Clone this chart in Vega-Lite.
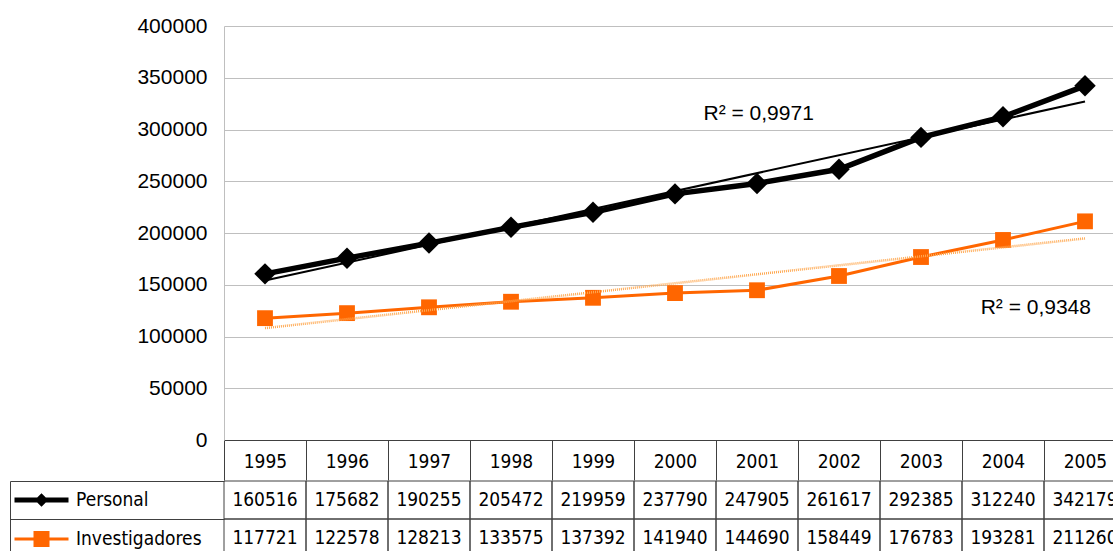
{
  "$schema": "https://vega.github.io/schema/vega-lite/v6.json",
  "autosize": "none",
  "width": 889,
  "height": 414,
  "padding": {"left": 224, "top": 26, "right": 0, "bottom": 111},
  "background": "white",
  "config": {"view": {"stroke": null}},
  "datasets": {
    "main": [
      {"year": 1995, "series": "Personal", "value": 160516},
      {"year": 1996, "series": "Personal", "value": 175682},
      {"year": 1997, "series": "Personal", "value": 190255},
      {"year": 1998, "series": "Personal", "value": 205472},
      {"year": 1999, "series": "Personal", "value": 219959},
      {"year": 2000, "series": "Personal", "value": 237790},
      {"year": 2001, "series": "Personal", "value": 247905},
      {"year": 2002, "series": "Personal", "value": 261617},
      {"year": 2003, "series": "Personal", "value": 292385},
      {"year": 2004, "series": "Personal", "value": 312240},
      {"year": 2005, "series": "Personal", "value": 342179},
      {"year": 1995, "series": "Investigadores", "value": 117721},
      {"year": 1996, "series": "Investigadores", "value": 122578},
      {"year": 1997, "series": "Investigadores", "value": 128213},
      {"year": 1998, "series": "Investigadores", "value": 133575},
      {"year": 1999, "series": "Investigadores", "value": 137392},
      {"year": 2000, "series": "Investigadores", "value": 141940},
      {"year": 2001, "series": "Investigadores", "value": 144690},
      {"year": 2002, "series": "Investigadores", "value": 158449},
      {"year": 2003, "series": "Investigadores", "value": 176783},
      {"year": 2004, "series": "Investigadores", "value": 193281},
      {"year": 2005, "series": "Investigadores", "value": 211260}
    ]
  },
  "data": {"name": "main"},
  "encoding": {
    "x": {
      "field": "year",
      "type": "ordinal",
      "scale": {
        "type": "band",
        "domain": [1995, 1996, 1997, 1998, 1999, 2000, 2001, 2002, 2003, 2004, 2005],
        "range": [0, 902],
        "paddingInner": 0,
        "paddingOuter": 0
      },
      "axis": {
        "orient": "bottom",
        "title": null,
        "domain": true,
        "domainColor": "#404040",
        "domainWidth": 1,
        "ticks": true,
        "tickBand": "extent",
        "tickSize": 40,
        "tickColor": "#404040",
        "tickWidth": 1,
        "labelFont": "DejaVu Sans Condensed",
        "labelFontSize": 19,
        "labelColor": "black",
        "labelBaseline": "middle",
        "labelPadding": -19,
        "labelAngle": 0,
        "labelFlush": false,
        "grid": false
      }
    }
  },
  "resolve": {"scale": {"y": "independent"}},
  "layer": [
    {
      "encoding": {
        "y": {
          "field": "value",
          "type": "quantitative",
          "scale": {"domain": [0, 400000], "nice": false, "zero": true},
          "axis": {
            "orient": "left",
            "title": null,
            "values": [0, 50000, 100000, 150000, 200000, 250000, 300000, 350000, 400000],
            "format": "d",
            "labelFont": "Liberation Sans",
            "labelFontSize": 21,
            "labelColor": "black",
            "labelPadding": 17,
            "ticks": false,
            "domain": true,
            "domainColor": "#bfbfbf",
            "grid": true,
            "gridColor": "#bfbfbf",
            "gridWidth": 1
          }
        },
        "color": {
          "field": "series",
          "type": "nominal",
          "scale": {"domain": ["Personal", "Investigadores"], "range": ["#000000", "#FF6600"]},
          "legend": {
            "orient": "none",
            "legendX": -192,
            "legendY": 464.5,
            "title": null,
            "direction": "vertical",
            "padding": 0,
            "rowPadding": 19,
            "labelOffset": 25,
            "symbolOffset": 0,
            "labelFont": "DejaVu Sans Condensed",
            "labelFontSize": 19,
            "labelColor": "black",
            "labelLimit": 300,
            "encode": {
              "symbols": {
                "update": {
                  "shape": {"signal": "datum.value === 'Personal' ? 'M-27,-2.5H27V2.5H-27ZM0,-6.8L6.8,0L0,6.8L-6.8,0Z' : 'M-27,-1.4H27V1.4H-27ZM-8,-8H8V8H-8Z'"},
                  "fill": {"signal": "datum.value === 'Personal' ? '#000000' : '#FF6600'"},
                  "stroke": {"value": "transparent"},
                  "strokeWidth": {"value": 0},
                  "size": {"value": 4},
                  "opacity": {"value": 1}
                }
              }
            }
          }
        }
      },
      "layer": [
        {
          "transform": [{"filter": "datum.series === 'Personal'"}],
          "mark": {"type": "line", "strokeWidth": 5.5}
        },
        {
          "transform": [{"filter": "datum.series === 'Investigadores'"}],
          "mark": {"type": "line", "strokeWidth": 3}
        },
        {
          "transform": [{"filter": "datum.series === 'Personal'"}],
          "mark": {"type": "point", "shape": "diamond", "filled": true, "size": 460, "opacity": 1}
        },
        {
          "transform": [{"filter": "datum.series === 'Investigadores'"}],
          "mark": {"type": "point", "shape": "square", "filled": true, "size": 250, "opacity": 1}
        },
        {
          "transform": [
            {"filter": "datum.series === 'Personal'"},
            {"regression": "value", "on": "year"}
          ],
          "mark": {"type": "line", "strokeWidth": 2},
          "encoding": {"color": {"value": "#000000"}}
        },
        {
          "transform": [
            {"filter": "datum.series === 'Investigadores'"},
            {"regression": "value", "on": "year"}
          ],
          "mark": {"type": "line", "strokeWidth": 2.5, "strokeDash": [1, 1]},
          "encoding": {"color": {"value": "#FFA850"}}
        },
        {
          "data": {"values": [{"year": 2001, "value": 315000, "label": "R² = 0,9971"}]},
          "mark": {"type": "text", "font": "Liberation Sans", "fontSize": 21, "align": "center", "baseline": "middle"},
          "encoding": {
            "x": {"field": "year", "type": "ordinal", "bandPosition": 0.52},
            "text": {"field": "label"},
            "color": {"value": "#000000"}
          }
        },
        {
          "data": {"values": [{"year": 2004, "value": 127500, "label": "R² = 0,9348"}]},
          "mark": {"type": "text", "font": "Liberation Sans", "fontSize": 21, "align": "center", "baseline": "middle"},
          "encoding": {
            "x": {"field": "year", "type": "ordinal", "bandPosition": 0.9},
            "text": {"field": "label"},
            "color": {"value": "#000000"}
          }
        }
      ]
    },
    {
      "encoding": {
        "y": {
          "field": "series",
          "type": "nominal",
          "scale": {
            "type": "band",
            "domain": ["Personal", "Investigadores"],
            "range": [455, 531],
            "paddingInner": 0,
            "paddingOuter": 0
          },
          "axis": {
            "orient": "left",
            "title": null,
            "offset": 214,
            "labels": false,
            "ticks": true,
            "tickBand": "extent",
            "tickSize": -214,
            "tickColor": "#404040",
            "tickWidth": 1,
            "domain": true,
            "domainColor": "#404040",
            "domainWidth": 1,
            "grid": false
          }
        }
      },
      "layer": [
        {
          "mark": {"type": "rect", "filled": false, "color": "#404040", "strokeWidth": 1}
        },
        {
          "mark": {"type": "text", "font": "DejaVu Sans Condensed", "fontSize": 19, "color": "#000000", "align": "center", "baseline": "middle"},
          "encoding": {"text": {"field": "value", "type": "quantitative", "format": "d"}}
        }
      ]
    }
  ]
}
